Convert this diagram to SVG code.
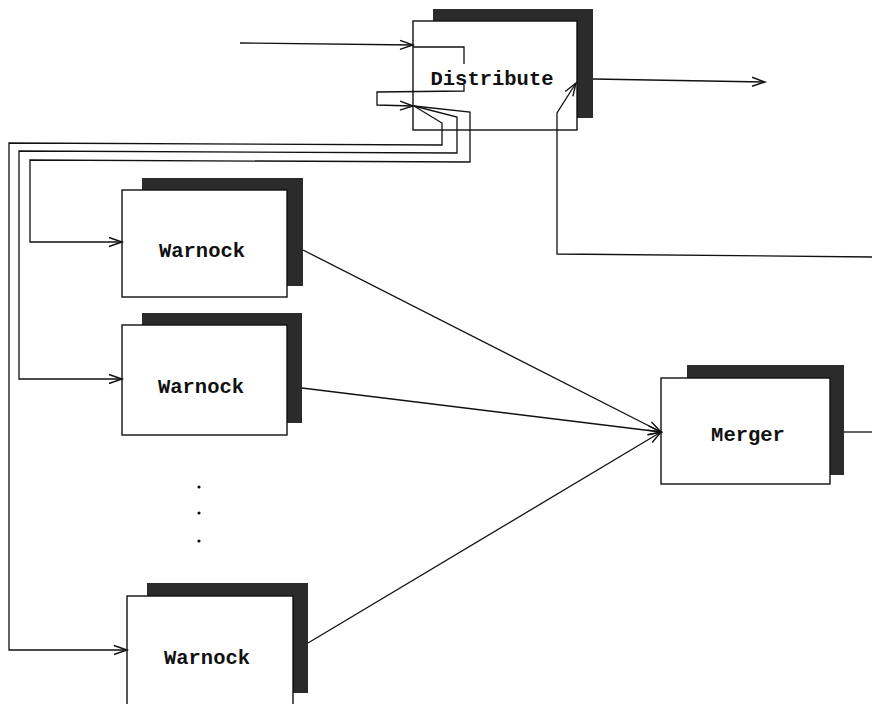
<svg xmlns="http://www.w3.org/2000/svg" width="872" height="704" viewBox="0 0 872 704">
  <defs>
    <marker id="arr" markerUnits="userSpaceOnUse" markerWidth="16" markerHeight="12" viewBox="-14 -6 16 12" refX="0" refY="0" orient="auto" overflow="visible">
      <path d="M-13,-4.5 L0,0 L-13,4.5" fill="none" stroke="#111" stroke-width="1.4"/>
    </marker>
  </defs>
  <style>
    .shadow { fill: #2b2b2b; }
    .box { fill: #ffffff; stroke: #111; stroke-width: 1.4; }
    .lbl { font-family: "Liberation Mono", "DejaVu Sans Mono", monospace; font-weight: bold; font-size: 20.5px; fill: #111; text-anchor: middle; }
    .wire { fill: none; stroke: #111; stroke-width: 1.3; stroke-linejoin: miter; }
  </style>
  <rect width="872" height="704" fill="#ffffff"/>

  <g id="distribute">
    <rect class="shadow" x="433" y="9" width="160" height="109"/>
    <rect class="box" x="413" y="21" width="164" height="109"/>
    <text class="lbl" x="492" y="85">Distribute</text>
  </g>

  <g id="warnock1">
    <rect class="shadow" x="142" y="178" width="161" height="108"/>
    <rect class="box" x="122" y="190" width="165" height="107"/>
    <text class="lbl" x="202" y="257">Warnock</text>
  </g>

  <g id="warnock2">
    <rect class="shadow" x="142" y="313" width="160" height="110"/>
    <rect class="box" x="122" y="325" width="165" height="110"/>
    <text class="lbl" x="201" y="393">Warnock</text>
  </g>

  <g id="warnock3">
    <rect class="shadow" x="147" y="583" width="161" height="110"/>
    <rect class="box" x="127" y="596" width="166" height="112"/>
    <text class="lbl" x="207" y="664">Warnock</text>
  </g>

  <g id="merger">
    <rect class="shadow" x="687" y="365" width="157" height="110"/>
    <rect class="box" x="661" y="378" width="169" height="106"/>
    <text class="lbl" x="748" y="441">Merger</text>
  </g>

  <g id="dots" fill="#111">
    <circle cx="199" cy="487" r="1.6"/>
    <circle cx="199" cy="513" r="1.6"/>
    <circle cx="199" cy="541" r="1.6"/>
  </g>

  <g id="connectors">
    <!-- input to Distribute -->
    <path class="wire" d="M240,43 L413,45" marker-end="url(#arr)"/>
    <!-- internal loop in Distribute -->
    <path class="wire" d="M413,47 L464,47 L464,64"/>
    <path class="wire" d="M464,85 L464,91 L377,92 L377,105 L413,106" marker-end="url(#arr)"/>
    <!-- fan-out to Warnocks -->
    <path class="wire" d="M414,106 L442,123 L442,145 L9,143 L9,650 L127,650" marker-end="url(#arr)"/>
    <path class="wire" d="M414,106 L457,117 L457,153 L19,151 L19,379 L122,379" marker-end="url(#arr)"/>
    <path class="wire" d="M414,106 L470,112 L470,162 L30,160 L30,242 L122,242" marker-end="url(#arr)"/>
    <!-- Distribute output -->
    <path class="wire" d="M593,79 L765,82" marker-end="url(#arr)"/>
    <!-- feedback into Distribute -->
    <path class="wire" d="M872,257 L557,254 L557,113 L576,83" marker-end="url(#arr)"/>
    <!-- Warnocks to Merger -->
    <path class="wire" d="M303,250 L661,432" marker-end="url(#arr)"/>
    <path class="wire" d="M302,388 L661,432" marker-end="url(#arr)"/>
    <path class="wire" d="M308,643 L661,432" marker-end="url(#arr)"/>
    <!-- Merger output -->
    <path class="wire" d="M844,432 L872,432"/>
  </g>
</svg>
